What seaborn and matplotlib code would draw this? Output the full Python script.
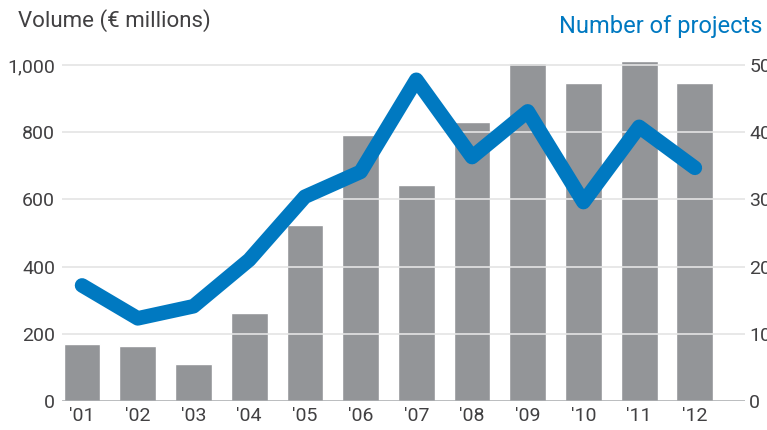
import numpy as np
import pandas as pd
import matplotlib
matplotlib.use("Agg")
import matplotlib.pyplot as plt
import seaborn as sns

years = ["'01", "'02", "'03", "'04", "'05", "'06", "'07", "'08", "'09", "'10", "'11", "'12"]
volume = [170, 163, 110, 262, 524, 791, 642, 830, 1007, 945, 1013, 945]
projects = [17.2, 12.3, 14.1, 21.0, 30.4, 34.1, 47.8, 36.3, 43.1, 29.6, 40.8, 34.7]
left_ticks = [0, 200, 400, 600, 800, 1000]
left_labels = ["0", "200", "400", "600", "800", "1,000"]
right_ticks = [0, 10, 20, 30, 40, 50]
right_labels = ["0", "10", "20", "30", "40", "50"]

df = pd.DataFrame({"year": years, "volume": volume, "projects": projects})

sns.set_theme(style="white")
plt.rcParams["font.family"] = ["Roboto", "DejaVu Sans"]

BAR = "#939598"
BLUE = "#0079c1"
TXT = "#414042"
GRID = "#e4e4e4"

fig = plt.figure(figsize=(7.67, 4.30), dpi=100)
ax = fig.add_axes([62/767, (430-401)/430, 683/767, (401-31.4)/430])

sns.barplot(data=df, x="year", y="volume", color=BAR, saturation=1, width=0.66,
            ax=ax, zorder=1)
ax.set_ylim(0, 1100)
ax.set_xlim(-0.36, 11.9)
ax.set_yticks(left_ticks)
ax.set_yticklabels(left_labels)
for t in left_ticks[1:]:
    ax.axhline(t, color=GRID, lw=1.2, zorder=2)
ax.axhline(0, color="#a7a9ac", lw=1.8, zorder=3)
for s in ax.spines.values():
    s.set_visible(False)
ax.set_xlabel("")
ax.set_ylabel("")
ax.tick_params(axis="y", length=0, pad=5, labelsize=14, labelcolor=TXT)
ax.tick_params(axis="x", length=0, pad=4, labelsize=14, labelcolor=TXT)

ax2 = ax.twinx()
sns.lineplot(data=df, x="year", y="projects", color=BLUE, lw=10.5, ax=ax2,
             solid_capstyle="round", solid_joinstyle="round", zorder=4)
ax2.set_ylim(0, 55)
ax2.set_xlim(-0.36, 11.9)
ax2.set_yticks(right_ticks)
ax2.set_yticklabels(right_labels)
ax2.set_ylabel("")
ax2.set_xlabel("")
for s in ax2.spines.values():
    s.set_visible(False)
ax2.tick_params(axis="y", length=0, pad=3, labelsize=14, labelcolor=TXT)
ax2.grid(False)
ax.grid(False)

fig.text(18/767, 1 - 21/430, "Volume (€ millions)", fontsize=16, color=TXT,
         ha="left", va="center")
fig.text(762/767, 1 - 26/430, "Number of projects", fontsize=17, color=BLUE,
         ha="right", va="center")

fig.savefig("out.png", dpi=100)
